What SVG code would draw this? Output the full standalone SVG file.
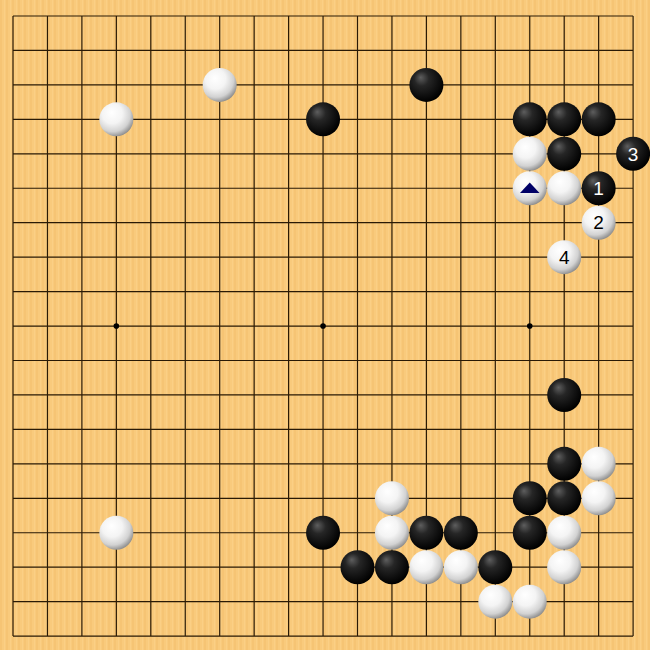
<svg xmlns="http://www.w3.org/2000/svg" xmlns:xlink="http://www.w3.org/1999/xlink" width="650" height="650" viewBox="0 0 650 650">
<defs>
<pattern id="wood" x="0" y="0" width="6" height="650" patternUnits="userSpaceOnUse">
<rect width="6" height="650" fill="#F9CA7C"/>
<rect x="0" width="2" height="650" fill="#F6C474"/>
<rect x="4" width="1" height="650" fill="#FBCF85"/>
</pattern>
<radialGradient id="wg" cx="0.4" cy="0.36" r="0.66" fx="0.36" fy="0.3">
<stop offset="0" stop-color="#ffffff"/>
<stop offset="0.45" stop-color="#f4f4f4"/>
<stop offset="0.78" stop-color="#d2d2d2"/>
<stop offset="1" stop-color="#8e8e8e"/>
</radialGradient>
<radialGradient id="bg" cx="0.42" cy="0.38" r="0.62" fx="0.33" fy="0.28">
<stop offset="0" stop-color="#5e5e5e"/>
<stop offset="0.35" stop-color="#262626"/>
<stop offset="1" stop-color="#000000"/>
</radialGradient>
<symbol id="W" overflow="visible"><circle r="17" fill="url(#wg)"/></symbol>
<symbol id="B" overflow="visible"><circle r="17" fill="url(#bg)"/></symbol>
</defs>
<style>
.grid{stroke:#2a1a05;stroke-width:1.2;fill:none}
.star{fill:#000}
.nb{font-family:"Liberation Sans",Arial,sans-serif;font-size:19px;fill:#fff;text-anchor:middle}
.nw{font-family:"Liberation Sans",Arial,sans-serif;font-size:19px;fill:#000;text-anchor:middle}
.mark{fill:#000066}
</style>
<rect width="650" height="650" fill="url(#wood)"/>
<g id="connectors">
<path class="grid" d="M13,16V636.1M47.45,16V636.1M81.9,16V636.1M116.35,16V636.1M150.8,16V636.1M185.25,16V636.1M219.7,16V636.1M254.15,16V636.1M288.6,16V636.1M323.05,16V636.1M357.5,16V636.1M391.95,16V636.1M426.4,16V636.1M460.85,16V636.1M495.3,16V636.1M529.75,16V636.1M564.2,16V636.1M598.65,16V636.1M633.1,16V636.1M13,16H633.1M13,50.45H633.1M13,84.9H633.1M13,119.35H633.1M13,153.8H633.1M13,188.25H633.1M13,222.7H633.1M13,257.15H633.1M13,291.6H633.1M13,326.05H633.1M13,360.5H633.1M13,394.95H633.1M13,429.4H633.1M13,463.85H633.1M13,498.3H633.1M13,532.75H633.1M13,567.2H633.1M13,601.65H633.1M13,636.1H633.1"/>
<circle class="star" cx="116.35" cy="326.05" r="2.8"/>
<circle class="star" cx="323.05" cy="326.05" r="2.8"/>
<circle class="star" cx="529.75" cy="326.05" r="2.8"/>
</g>
<g id="stones">
<g id="w-g3"><use href="#W" x="219.7" y="84.9"/></g>
<g id="w-d4"><use href="#W" x="116.35" y="119.35"/></g>
<g id="b-m3"><use href="#B" x="426.4" y="84.9"/></g>
<g id="b-k4"><use href="#B" x="323.05" y="119.35"/></g>
<g id="b-q4"><use href="#B" x="529.75" y="119.35"/></g>
<g id="b-r4"><use href="#B" x="564.2" y="119.35"/></g>
<g id="b-s4"><use href="#B" x="598.65" y="119.35"/></g>
<g id="w-q5"><use href="#W" x="529.75" y="153.8"/></g>
<g id="b-r5"><use href="#B" x="564.2" y="153.8"/></g>
<g id="b3"><use href="#B" x="633.1" y="153.8"/><text class="nb" x="633.1" y="160.5">3</text></g>
<g id="w-q6"><use href="#W" x="529.75" y="188.25"/><polygon class="mark" points="520,193 539.5,193 529.75,182.5"/></g>
<g id="w-r6"><use href="#W" x="564.2" y="188.25"/></g>
<g id="b1"><use href="#B" x="598.65" y="188.25"/><text class="nb" x="598.65" y="195">1</text></g>
<g id="w2"><use href="#W" x="598.65" y="222.7"/><text class="nw" x="598.65" y="229.4">2</text></g>
<g id="w4"><use href="#W" x="564.2" y="257.15"/><text class="nw" x="564.2" y="263.85">4</text></g>
<g id="b-r12"><use href="#B" x="564.2" y="394.95"/></g>
<g id="b-r14"><use href="#B" x="564.2" y="463.85"/></g>
<g id="w-s14"><use href="#W" x="598.65" y="463.85"/></g>
<g id="b-q15"><use href="#B" x="529.75" y="498.3"/></g>
<g id="b-r15"><use href="#B" x="564.2" y="498.3"/></g>
<g id="w-s15"><use href="#W" x="598.65" y="498.3"/></g>
<g id="w-l15"><use href="#W" x="391.95" y="498.3"/></g>
<g id="w-d16"><use href="#W" x="116.35" y="532.75"/></g>
<g id="b-k16"><use href="#B" x="323.05" y="532.75"/></g>
<g id="w-l16"><use href="#W" x="391.95" y="532.75"/></g>
<g id="b-m16"><use href="#B" x="426.4" y="532.75"/></g>
<g id="b-n16"><use href="#B" x="460.85" y="532.75"/></g>
<g id="b-q16"><use href="#B" x="529.75" y="532.75"/></g>
<g id="w-r16"><use href="#W" x="564.2" y="532.75"/></g>
<g id="b-l17"><use href="#B" x="357.5" y="567.2"/></g>
<g id="b-m17"><use href="#B" x="391.95" y="567.2"/></g>
<g id="w-n17"><use href="#W" x="426.4" y="567.2"/></g>
<g id="w-o17"><use href="#W" x="460.85" y="567.2"/></g>
<g id="b-p17"><use href="#B" x="495.3" y="567.2"/></g>
<g id="w-r17"><use href="#W" x="564.2" y="567.2"/></g>
<g id="w-p18"><use href="#W" x="495.3" y="601.65"/></g>
<g id="w-q18"><use href="#W" x="529.75" y="601.65"/></g>
</g>
</svg>
